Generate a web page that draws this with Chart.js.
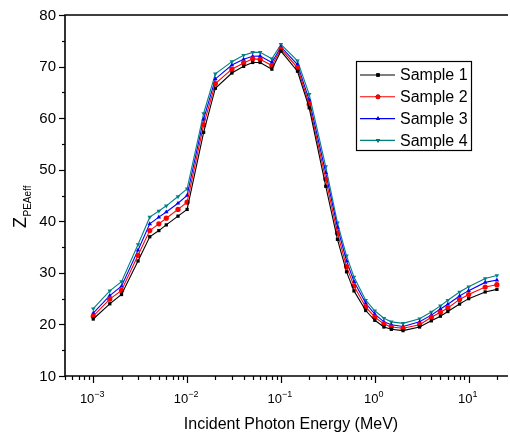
<!DOCTYPE html>
<html lang="en">
<head>
<meta charset="UTF-8">
<title>Z PEAeff vs Incident Photon Energy</title>
<script src="https://cdn.jsdelivr.net/npm/chart.js"></script>
<style>
  html, body { margin: 0; padding: 0; background: #fff; }
  #wrap { width: 510px; height: 436px; }
</style>
</head>
<body>
<div id="wrap"><canvas id="zChart"></canvas></div>
<script>
// photon energies (MeV)
const energies = [0.001, 0.0015, 0.002, 0.003, 0.004, 0.005, 0.006, 0.008, 0.01, 0.015, 0.02, 0.03,
  0.04, 0.05, 0.06, 0.08, 0.1, 0.15, 0.2, 0.3, 0.4, 0.5, 0.6, 0.8, 1, 1.25, 1.5, 2, 3, 4, 5, 6, 8, 10, 15, 20];

const sample1 = [21.05, 24.0, 25.8, 32.3, 37.0, 38.2, 39.3, 41.0, 42.3, 57.25, 65.8, 68.75,
  70.05, 70.8, 70.8, 69.5, 73.0, 69.1, 62.0, 46.8, 36.5, 30.2, 26.5, 22.7, 20.8, 19.5, 19.05, 18.8,
  19.5, 20.7, 21.6, 22.5, 23.95, 25.0, 26.3, 26.8];
const sample2 = [21.6, 24.9, 26.6, 33.4, 38.2, 39.5, 40.6, 42.3, 43.7, 58.7, 66.7, 69.5,
  70.7, 71.5, 71.4, 70.2, 73.4, 69.8, 62.7, 48.2, 37.7, 31.2, 27.45, 23.4, 21.4, 20.1, 19.5, 19.25,
  19.95, 21.4, 22.35, 23.2, 24.85, 25.8, 27.25, 27.7];
const sample3 = [22.2, 25.6, 27.4, 34.4, 39.5, 40.8, 41.8, 43.5, 45.0, 59.8, 67.6, 70.3,
  71.4, 72.0, 72.05, 70.8, 73.8, 70.4, 63.5, 49.4, 38.8, 32.3, 28.3, 24.1, 22.0, 20.5, 19.95, 19.6,
  20.5, 21.8, 23.0, 23.9, 25.5, 26.55, 28.15, 28.6];
const sample4 = [23.05, 26.5, 28.3, 35.5, 40.8, 42.0, 43.0, 44.8, 46.3, 60.9, 68.6, 70.95,
  72.2, 72.75, 72.75, 71.5, 74.3, 71.1, 64.6, 50.6, 39.7, 33.3, 29.2, 24.7, 22.65, 21.2, 20.5, 20.2,
  21.1, 22.4, 23.6, 24.7, 26.3, 27.3, 28.9, 29.5];

const seriesNames = ['Sample 1', 'Sample 2', 'Sample 3', 'Sample 4'];
const seriesColors = ['#000000', '#ff0000', '#0000ff', '#008080'];
const seriesMarkers = ['rect', 'circle', 'triangle', 'triangle'];
const seriesRotation = [0, 0, 0, 180];

const yTicks = [10, 20, 30, 40, 50, 60, 70, 80];
const xTickExps = [-3, -2, -1, 0, 1];

const allSeries = [sample1, sample2, sample3, sample4];

const datasets = allSeries.map((vals, i) => ({
  label: seriesNames[i],
  data: energies.map((e, j) => ({ x: e, y: vals[j] })),
  borderColor: seriesColors[i],
  backgroundColor: seriesColors[i],
  borderWidth: 1.1,
  pointStyle: seriesMarkers[i],
  rotation: seriesRotation[i],
  pointRadius: seriesMarkers[i] === 'rect' ? 2.3 : 2.6,
  pointBorderWidth: 0,
  tension: 0
}));

const FONT = '"Liberation Sans", Arial, sans-serif';

const framePlugin = {
  id: 'frame',
  afterDraw(chart) {
    const ctx = chart.ctx;
    const a = chart.chartArea;
    const xs = chart.scales.x, ys = chart.scales.y;
    ctx.save();
    ctx.strokeStyle = '#000';
    ctx.fillStyle = '#000';

    // frame: left, top, bottom (right edge falls outside the picture)
    ctx.lineWidth = 1.6;
    ctx.beginPath();
    ctx.moveTo(a.right + 2, a.top);
    ctx.lineTo(a.left, a.top);
    ctx.lineTo(a.left, a.bottom);
    ctx.lineTo(a.right + 2, a.bottom);
    ctx.stroke();

    // y ticks
    ctx.lineWidth = 1.2;
    ctx.font = '15px ' + FONT;
    ctx.textAlign = 'right';
    ctx.textBaseline = 'middle';
    for (let v = 10; v <= 80; v += 5) {
      const y = Math.round(ys.getPixelForValue(v)) + 0.5;
      const len = v % 10 === 0 ? 6 : 3;
      ctx.beginPath();
      ctx.moveTo(a.left - len, y);
      ctx.lineTo(a.left, y);
      ctx.stroke();
    }
    yTicks.forEach(v => {
      ctx.fillText(String(v), 56, ys.getPixelForValue(v) + 0.5);
    });

    // x ticks (log, with minors)
    for (let e = -4; e <= 1; e++) {
      for (let m = 1; m <= 9; m++) {
        const val = m * Math.pow(10, e);
        if (val < xs.min || val > xs.max) continue;
        const x = Math.round(xs.getPixelForValue(val)) + 0.5;
        const len = m === 1 ? 7 : 4;
        ctx.beginPath();
        ctx.moveTo(x, a.bottom);
        ctx.lineTo(x, a.bottom + len);
        ctx.stroke();
      }
    }
    xTickExps.forEach(e => {
      const x = xs.getPixelForValue(Math.pow(10, e));
      const base = '10', sup = String(e).replace('-', '\u2212');
      ctx.font = '13px ' + FONT;
      const wb = ctx.measureText(base).width;
      ctx.font = '9px ' + FONT;
      const ws = ctx.measureText(sup).width;
      const x0 = x - (wb + ws) / 2 - 1;
      ctx.textAlign = 'left';
      ctx.textBaseline = 'alphabetic';
      ctx.font = '13px ' + FONT;
      ctx.fillText(base, x0, 403);
      ctx.font = '9px ' + FONT;
      ctx.fillText(sup, x0 + wb, 397);
    });

    // x axis title
    ctx.font = '16px ' + FONT;
    ctx.textAlign = 'center';
    ctx.textBaseline = 'alphabetic';
    ctx.fillText('Incident Photon Energy (MeV)', 291, 429);

    // y axis title: Z with subscript PEAeff
    ctx.save();
    ctx.translate(26, 228);
    ctx.rotate(-Math.PI / 2);
    ctx.textAlign = 'left';
    ctx.font = '18px ' + FONT;
    ctx.fillText('Z', 0, 0);
    const wz = ctx.measureText('Z').width;
    ctx.font = '10px ' + FONT;
    ctx.fillText('PEAeff', wz + 0.5, 5);
    ctx.restore();

    // legend
    const lx = 356, ly = 61, lw = 115, lh = 89;
    ctx.lineWidth = 1.2;
    ctx.strokeStyle = '#000';
    ctx.strokeRect(lx + 0.5, ly + 0.5, lw, lh);
    ctx.font = '16px ' + FONT;
    ctx.textAlign = 'left';
    ctx.textBaseline = 'middle';
    chart.data.datasets.forEach((ds, i) => {
      const y = 75 + i * 21.8;
      ctx.strokeStyle = ds.borderColor;
      ctx.lineWidth = 1.1;
      ctx.beginPath();
      ctx.moveTo(lx + 4, y);
      ctx.lineTo(lx + 39, y);
      ctx.stroke();
      Chart.helpers.drawPoint(ctx, {
        pointStyle: ds.pointStyle, rotation: ds.rotation, radius: 2.4, borderWidth: 0
      }, lx + 22, y);
      ctx.fillStyle = ds.backgroundColor;
      ctx.fill();
      ctx.fillStyle = '#000';
      ctx.fillText(ds.label, 400, y + 1);
    });
    ctx.restore();
  }
};

new Chart(document.getElementById('zChart'), {
  type: 'line',
  data: { datasets: datasets },
  options: {
    responsive: true,
    maintainAspectRatio: false,
    animation: false,
    layout: { padding: { top: 15, right: 0, bottom: 0, left: 0 } },
    plugins: { legend: { display: false }, tooltip: { enabled: false } },
    scales: {
      x: {
        type: 'logarithmic',
        min: 5e-4,
        max: 25,
        grid: { display: false },
        border: { display: false },
        ticks: { display: false },
        afterFit(scale) { scale.height = 60; }
      },
      y: {
        min: 10,
        max: 80,
        grid: { display: false },
        border: { display: false },
        ticks: { display: false },
        afterFit(scale) { scale.width = 65; }
      }
    }
  },
  plugins: [framePlugin]
});
</script>
</body>
</html>
